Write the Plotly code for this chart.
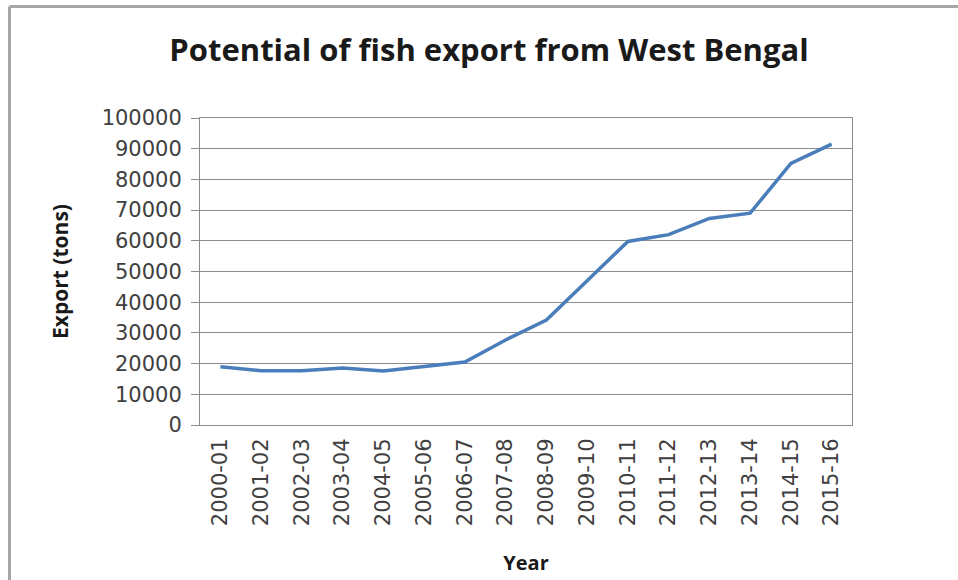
import plotly.graph_objects as go

years = ["2000-01", "2001-02", "2002-03", "2003-04", "2004-05", "2005-06", "2006-07",
         "2007-08", "2008-09", "2009-10", "2010-11", "2011-12", "2012-13", "2013-14",
         "2014-15", "2015-16"]
export_tons = [19000, 17700, 17700, 18600, 17600, 19000, 20500,
               27700, 34200, 47000, 59800, 62000, 67300, 69000,
               85200, 91500]
y_ticks = [0, 10000, 20000, 30000, 40000, 50000, 60000, 70000, 80000, 90000, 100000]

W, H = 958, 580
ML, MT = 200, 118
MR, MB = W - 852, H - 425
pw, ph = W - ML - MR, H - MT - MB

fig = go.Figure()
fig.add_trace(go.Scatter(x=years, y=export_tons, mode="lines",
                         line=dict(color="#4a7ebb", width=3.5, shape="linear"),
                         showlegend=False))

font_title = "'Open Sans', Lato, sans-serif"
font_tick = "'DejaVu Sans', sans-serif"

fig.update_layout(
    width=W, height=H,
    margin=dict(l=ML, r=MR, t=MT, b=MB),
    paper_bgcolor="white", plot_bgcolor="white",
    title=dict(text="<b>Potential of fish export from West Bengal</b>",
               x=489 / W, xanchor="center", y=1 - 50 / H, yanchor="middle",
               font=dict(family=font_title, size=31, color="#1a1a1a")),
    xaxis=dict(type="category", tickangle=-90, showgrid=False, automargin=False,
               showline=True, linecolor="#8c8c8c", linewidth=1, mirror=True,
               ticks="", tickfont=dict(family=font_tick, size=21, color="#404040"),
               ticklabelstandoff=4,
               title=dict(text="<b>Year</b>", font=dict(family=font_title, size=20, color="#1a1a1a"),
                          standoff=30),
               range=[-0.5, len(years) - 0.5]),
    yaxis=dict(range=[0, 100000], tickvals=y_ticks, ticktext=[str(v) for v in y_ticks],
               automargin=False,
               showgrid=True, gridcolor="#8c8c8c", gridwidth=1,
               showline=True, linecolor="#8c8c8c", linewidth=1, mirror=True,
               ticks="outside", ticklen=8, tickcolor="#8c8c8c",
               ticklabelstandoff=5,
               tickfont=dict(family=font_tick, size=21, color="#404040"),
               zeroline=False,
               title=dict(text="<b>Export (tons)</b>", font=dict(family=font_title, size=21, color="#1a1a1a"),
                          standoff=27)),
)

# outer chart frame: only left and top edges are visible in the reference
frame_style = dict(color="#a6a6a6", width=3)
x_left = (9.5 - ML) / pw
y_top = (H - MB - 6.5) / ph
fig.add_shape(type="line", xref="paper", yref="paper",
              x0=x_left, x1=x_left, y0=(H - MB - (H + 20)) / ph, y1=y_top,
              line=frame_style, layer="below")
fig.add_shape(type="line", xref="paper", yref="paper",
              x0=x_left, x1=(W + 20 - ML) / pw, y0=y_top, y1=y_top,
              line=frame_style, layer="below")

fig.write_html("out.html",
               config={"displayModeBar": False},
               post_script="document.body.style.margin='0';document.body.style.overflow='hidden';")
